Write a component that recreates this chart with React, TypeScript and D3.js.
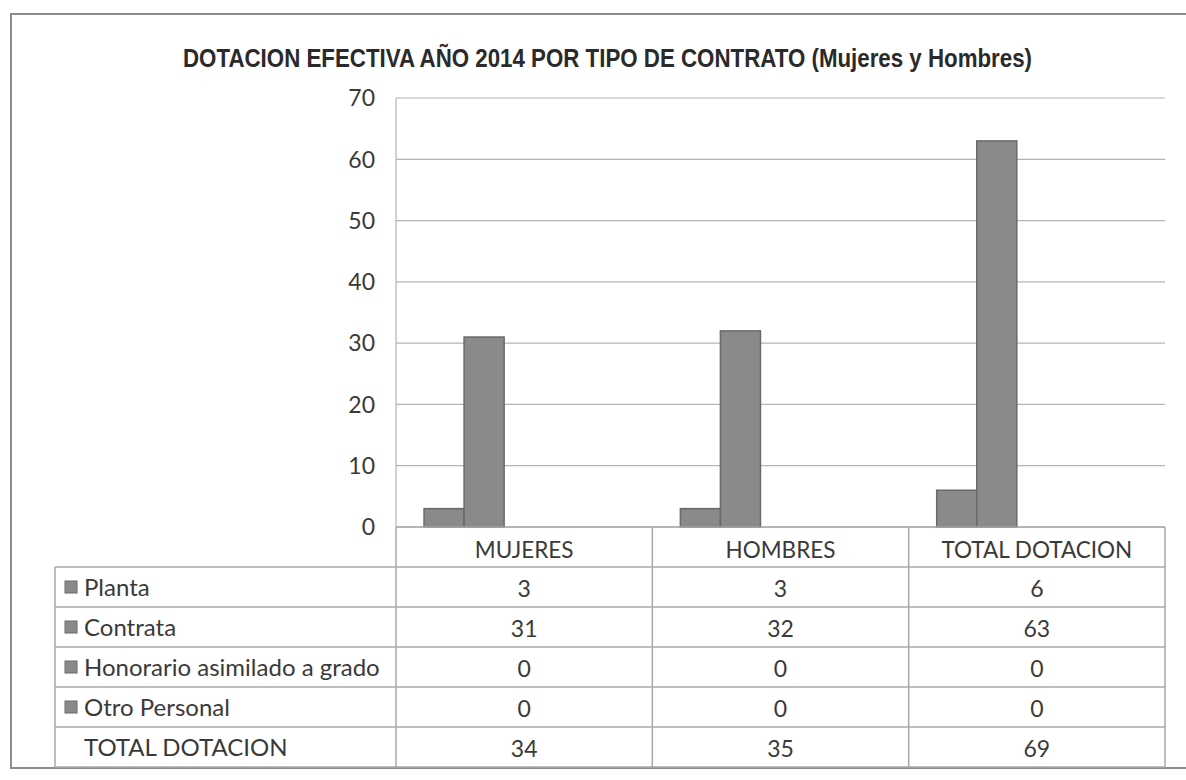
import * as d3 from 'd3'

const categories = ['MUJERES', 'HOMBRES', 'TOTAL DOTACION']
const seriesNames = ['Planta', 'Contrata', 'Honorario asimilado a grado', 'Otro Personal', 'TOTAL DOTACION']
const planta = [3, 3, 6]
const contrata = [31, 32, 63]
const honorario = [0, 0, 0]
const otroPersonal = [0, 0, 0]
const totalDotacion = [34, 35, 69]
const yTicks = [0, 10, 20, 30, 40, 50, 60, 70]

const seriesValues = [planta, contrata, honorario, otroPersonal, totalDotacion]
// the total row is in the table but has no fill in the plot
const seriesVisible = [true, true, true, true, false]

const W = 1186
const H = 780
const plotLeft = 396
const plotRight = 1165
const plotTop = 98
const plotBottom = 527
const labelLeft = 55
const rowH = 40

const font = "Lato, 'Open Sans', sans-serif"
const barFill = '#8a8a8a'
const barStroke = '#6a6a6a'
const gridColor = '#b4b4b4'
const tableLine = '#a8a8a8'
const textColor = '#3a3a3a'

export default function App() {
  const x0 = d3.scaleBand<string>().domain(categories).range([plotLeft, plotRight]).paddingInner(0).paddingOuter(0)
  const x1 = d3.scaleBand<string>().domain(seriesNames).range([0, x0.bandwidth()]).paddingInner(0).paddingOuter(0.7)
  const y = d3.scaleLinear().domain([0, 70]).range([plotBottom, plotTop])

  const headerTop = plotBottom
  const headerBottom = headerTop + rowH
  const tableBottom = headerBottom + rowH * seriesNames.length

  return (
    <svg width={W} height={H} style={{ display: 'block', position: 'absolute', left: 0, top: 0, background: '#fff' }}>
      <rect x={0} y={0} width={W} height={H} fill="#fff" />
      {/* outer frame */}
      <path d={`M1186,14 L11,14 L11,768 L1186,768`} fill="none" stroke="#8c8c8c" strokeWidth={2} />

      <text
        x={(183 + 1032) / 2}
        y={67}
        textAnchor="middle"
        fontFamily="'Liberation Sans Narrow', 'Arial Narrow', 'Liberation Sans', sans-serif"
        fontWeight="bold"
        fontSize={26}
        fill="#2a2a2a"
        textLength={849}
        lengthAdjust="spacingAndGlyphs"
      >
        DOTACION  EFECTIVA  AÑO  2014 POR TIPO DE CONTRATO  (Mujeres y Hombres)
      </text>

      {/* gridlines */}
      {yTicks.map((t) => (
        <line key={t} x1={plotLeft} x2={plotRight} y1={y(t)} y2={y(t)} stroke={gridColor} strokeWidth={1.2} />
      ))}
      <line x1={plotLeft} x2={plotLeft} y1={plotTop} y2={plotBottom} stroke={gridColor} strokeWidth={1.2} />

      {/* y tick labels */}
      {yTicks.map((t) => (
        <text key={t} x={375} y={y(t)} dy="0.36em" textAnchor="end" fontFamily={font} fontSize={23} fill={textColor}>
          {t}
        </text>
      ))}

      {/* bars */}
      {categories.map((c, ci) => (
        <g key={c} transform={`translate(${x0(c)},0)`}>
          {seriesNames.map((s, si) =>
            seriesVisible[si] && seriesValues[si][ci] > 0 ? (
              <rect
                key={s}
                x={x1(s)}
                y={y(seriesValues[si][ci])}
                width={x1.bandwidth()}
                height={y(0) - y(seriesValues[si][ci])}
                fill={barFill}
                stroke={barStroke}
                strokeWidth={1.5}
              />
            ) : null
          )}
        </g>
      ))}

      {/* data table */}
      <g stroke={tableLine} strokeWidth={1.5} fill="none">
        <line x1={plotLeft} x2={plotRight} y1={headerTop} y2={headerTop} />
        {d3.range(seriesNames.length + 1).map((i) => (
          <line key={i} x1={labelLeft} x2={plotRight} y1={headerBottom + i * rowH} y2={headerBottom + i * rowH} />
        ))}
        <line x1={labelLeft} x2={labelLeft} y1={headerBottom} y2={tableBottom} />
        {categories.map((c) => (
          <line key={c} x1={x0(c)!} x2={x0(c)!} y1={headerTop} y2={tableBottom} />
        ))}
        <line x1={plotRight} x2={plotRight} y1={headerTop} y2={tableBottom} />
      </g>

      {categories.map((c) => (
        <text
          key={c}
          x={x0(c)! + x0.bandwidth() / 2}
          y={(headerTop + headerBottom) / 2 + 3}
          dy="0.36em"
          textAnchor="middle"
          fontFamily={font}
          fontSize={22.5}
          fill={textColor}
        >
          {c}
        </text>
      ))}

      {seriesNames.map((s, si) => {
        const cy = headerBottom + si * rowH + rowH / 2
        return (
          <g key={s}>
            {seriesVisible[si] && (
              <rect x={65} y={cy - 6} width={12} height={12} fill={barFill} stroke={barStroke} strokeWidth={1} />
            )}
            <text x={84} y={cy} dy="0.36em" fontFamily={font} fontSize={24} fill={textColor}>
              {s}
            </text>
            {categories.map((c, ci) => (
              <text
                key={c}
                x={x0(c)! + x0.bandwidth() / 2}
                y={cy + 2}
                dy="0.36em"
                textAnchor="middle"
                fontFamily={font}
                fontSize={23}
                fill={textColor}
              >
                {seriesValues[si][ci]}
              </text>
            ))}
          </g>
        )
      })}
    </svg>
  )
}
